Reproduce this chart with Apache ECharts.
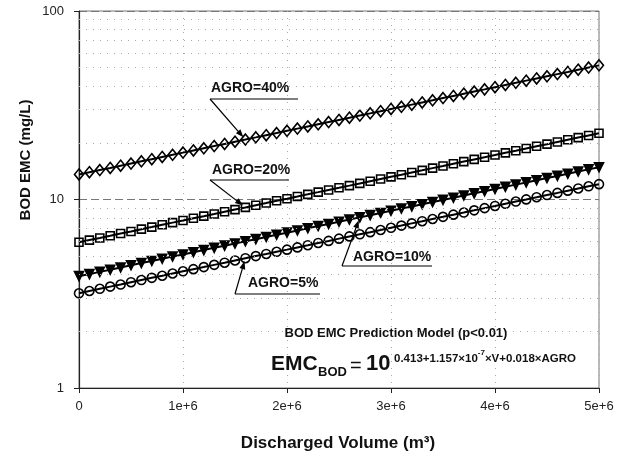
<!DOCTYPE html>
<html>
<head>
<meta charset="utf-8">
<title>BOD EMC</title>
<script src="https://cdn.jsdelivr.net/npm/echarts@6/dist/echarts.min.js"></script>
<style>
html, body { margin: 0; padding: 0; background: #fff; }
#main { width: 626px; height: 456px; }
</style>
</head>
<body>
<div id="main"></div>
<script>
'use strict';

// discharged volume (m3)
var volume = [0, 1e5, 2e5, 3e5, 4e5, 5e5, 6e5, 7e5, 8e5, 9e5,
	10e5, 11e5, 12e5, 13e5, 14e5, 15e5, 16e5, 17e5, 18e5, 19e5,
	20e5, 21e5, 22e5, 23e5, 24e5, 25e5, 26e5, 27e5, 28e5, 29e5,
	30e5, 31e5, 32e5, 33e5, 34e5, 35e5, 36e5, 37e5, 38e5, 39e5,
	40e5, 41e5, 42e5, 43e5, 44e5, 45e5, 46e5, 47e5, 48e5, 49e5, 50e5];

var agro40 = [13.58, 13.95, 14.33, 14.71, 15.11, 15.52, 15.94, 16.37, 16.81, 17.26,
	17.73, 18.21, 18.70, 19.20, 19.72, 20.26, 20.80, 21.36, 21.94, 22.53,
	23.14, 23.77, 24.41, 25.07, 25.74, 26.44, 27.15, 27.89, 28.64, 29.41,
	30.21, 31.02, 31.86, 32.72, 33.60, 34.51, 35.44, 36.40, 37.38, 38.39,
	39.43, 40.50, 41.58, 42.71, 43.86, 45.04, 46.26, 47.51, 48.80, 50.11, 51.47];

var agro20 = [5.93, 6.09, 6.25, 6.42, 6.60, 6.77, 6.96, 7.14, 7.34, 7.54,
	7.74, 7.95, 8.16, 8.38, 8.61, 8.84, 9.08, 9.33, 9.58, 9.84,
	10.10, 10.37, 10.65, 10.94, 11.24, 11.54, 11.85, 12.17, 12.50, 12.84,
	13.19, 13.54, 13.91, 14.28, 14.67, 15.06, 15.47, 15.89, 16.32, 16.76,
	17.21, 17.68, 18.15, 18.64, 19.15, 19.66, 20.19, 20.74, 21.30, 21.87, 22.46];

var agro10 = [3.92, 4.02, 4.13, 4.24, 4.36, 4.48, 4.60, 4.72, 4.85, 4.98,
	5.11, 5.25, 5.39, 5.54, 5.69, 5.84, 6.00, 6.16, 6.33, 6.50,
	6.67, 6.85, 7.04, 7.23, 7.42, 7.62, 7.83, 8.04, 8.26, 8.48,
	8.71, 8.95, 9.19, 9.44, 9.69, 9.95, 10.22, 10.50, 10.78, 11.07,
	11.37, 11.68, 11.99, 12.32, 12.65, 12.99, 13.34, 13.70, 14.07, 14.45, 14.84];

var agro5 = [3.18, 3.27, 3.36, 3.45, 3.54, 3.64, 3.74, 3.84, 3.94, 4.05,
	4.16, 4.27, 4.38, 4.50, 4.62, 4.75, 4.88, 5.01, 5.14, 5.28,
	5.42, 5.57, 5.72, 5.88, 6.03, 6.20, 6.37, 6.54, 6.71, 6.89,
	7.08, 7.27, 7.47, 7.67, 7.88, 8.09, 8.31, 8.53, 8.76, 9.00,
	9.24, 9.49, 9.75, 10.01, 10.28, 10.56, 10.84, 11.14, 11.44, 11.75, 12.06];

var xTicks = ['0', '1e+6', '2e+6', '3e+6', '4e+6', '5e+6'];
var minorY = [2, 3, 4, 5, 6, 7, 8, 9, 20, 30, 40, 50, 60, 70, 80, 90];

var curves = [agro40, agro20, agro10, agro5];

// label boxes: text pos, underline, which curve / point the arrow points to
var notes = [
	{ label: 'AGRO=40%', tx: 211, ty: 88, ux0: 210, ux1: 298, uy: 99, s: 0, at: 16 },
	{ label: 'AGRO=20%', tx: 212, ty: 170, ux0: 210, ux1: 289, uy: 180, s: 1, at: 16 },
	{ label: 'AGRO=10%', tx: 353, ty: 257, ux0: 342, ux1: 432, uy: 266, s: 2, at: 27 },
	{ label: 'AGRO=5%', tx: 248, ty: 283, ux0: 235, ux1: 320, uy: 294, s: 3, at: 16 }
];

var font = '"Liberation Sans", Arial, sans-serif';
var ink = '#111';

function pairs(vals) {
	return volume.map(function (v, i) { return [v, vals[i]]; });
}

function curve(name, vals, symbol, size, fill, rotate) {
	return {
		name: name,
		type: 'line',
		data: pairs(vals),
		symbol: symbol,
		symbolSize: size,
		symbolRotate: rotate || 0,
		showAllSymbol: true,
		lineStyle: { color: '#000', width: 2 },
		itemStyle: { color: fill, borderColor: '#000', borderWidth: 1.6 },
		emphasis: { disabled: true },
		z: 3
	};
}

var chart = echarts.init(document.getElementById('main'));

var option = {
	animation: false,
	backgroundColor: '#fff',
	grid: {
		left: 79, top: 11, width: 520, height: 377,
		show: true, borderColor: '#777', borderWidth: 1
	},
	xAxis: {
		type: 'value',
		min: 0, max: 5e6, interval: 1e6,
		axisLine: { lineStyle: { color: '#222', width: 1.2 } },
		axisTick: { show: true, length: 5, lineStyle: { color: '#222' } },
		axisLabel: {
			fontFamily: font, fontSize: 13, color: '#222', margin: 12,
			formatter: function (v) { return xTicks[Math.round(v / 1e6)]; }
		},
		splitLine: { show: true, lineStyle: { type: [1, 6], color: '#aaa', width: 1 } }
	},
	yAxis: {
		type: 'log',
		logBase: 10,
		min: 1, max: 100,
		axisLine: { show: true, lineStyle: { color: '#222', width: 1.2 } },
		axisTick: { show: true, length: 5, lineStyle: { color: '#222' } },
		axisLabel: { fontFamily: font, fontSize: 13, color: '#222', margin: 15 },
		splitLine: { show: true, lineStyle: { type: [8, 4], color: '#777', width: 1 } }
	},
	series: [
		curve('AGRO=40%', agro40, 'diamond', [9, 11], 'rgba(255,255,255,0)'),
		curve('AGRO=20%', agro20, 'rect', 8, 'rgba(255,255,255,0)'),
		curve('AGRO=10%', agro10, 'triangle', 9, '#000', 180),
		curve('AGRO=5%', agro5, 'circle', 9, 'rgba(255,255,255,0)'),
		{
			// minor log grid
			type: 'line',
			data: [],
			z: 1,
			markLine: {
				silent: true,
				symbol: ['none', 'none'],
				label: { show: false },
				lineStyle: { type: [1, 6], color: '#aaa', width: 1 },
				data: minorY.map(function (v) { return { yAxis: v }; })
			}
		}
	]
};
chart.setOption(option);

var txt = function (x, y, text, f, extra) {
	var st = { text: text, x: 0, y: 0, font: f, fill: ink,
		align: 'left', textAlign: 'left', verticalAlign: 'middle', textVerticalAlign: 'middle' };
	for (var k in extra) st[k] = extra[k];
	return { type: 'text', x: x, y: y, z: 10, silent: true, style: st };
};

var graphics = [];

notes.forEach(function (n) {
	var tip = chart.convertToPixel({ gridIndex: 0 }, [volume[n.at], curves[n.s][n.at]]);
	var dx = tip[0] - n.ux0, dy = tip[1] - n.uy;
	var len = Math.sqrt(dx * dx + dy * dy);
	var ux = dx / len, uy = dy / len;
	var ex = tip[0] - ux * 3, ey = tip[1] - uy * 3;
	var hl = 8, hw = 3;
	graphics.push(txt(n.tx, n.ty, n.label, 'bold 14px ' + font));
	graphics.push({ type: 'line', z: 10, silent: true,
		shape: { x1: n.ux0, y1: n.uy, x2: n.ux1, y2: n.uy },
		style: { stroke: '#000', lineWidth: 1.2 } });
	graphics.push({ type: 'line', z: 10, silent: true,
		shape: { x1: n.ux0, y1: n.uy, x2: ex - ux * 4, y2: ey - uy * 4 },
		style: { stroke: '#000', lineWidth: 1.2 } });
	graphics.push({ type: 'polygon', z: 10, silent: true,
		shape: { points: [
			[ex, ey],
			[ex - ux * hl - uy * hw, ey - uy * hl + ux * hw],
			[ex - ux * hl + uy * hw, ey - uy * hl - ux * hw]
		] },
		style: { fill: '#000' } });
});

// model text
graphics.push(txt(396, 333, 'BOD EMC Prediction Model (p<0.01)', 'bold 13px ' + font,
	{ align: 'center', textAlign: 'center' }));
graphics.push(txt(271, 364, 'EMC', 'bold 21px ' + font));
graphics.push(txt(318, 372, 'BOD', 'bold 13px ' + font));
graphics.push(txt(350, 366, '=', '20px ' + font));
graphics.push(txt(366, 364, '10', 'bold 22px ' + font));
graphics.push(txt(394, 357, '{a|0.413+1.157×10}{b|-7}{a|×V+0.018×AGRO}', 'bold 11px ' + font, {
	rich: {
		a: { font: 'bold 11.5px ' + font, fill: ink, color: ink, lineHeight: 16, verticalAlign: 'bottom' },
		b: { font: 'bold 8px ' + font, fill: ink, color: ink, lineHeight: 16, verticalAlign: 'top' }
	}
}));

// axis titles
graphics.push({ type: 'text', x: 26, y: 160, rotation: Math.PI / 2, z: 10, silent: true,
	style: { text: 'BOD EMC (mg/L)', x: 0, y: 0, font: 'bold 15px ' + font, fill: ink,
		align: 'center', textAlign: 'center', verticalAlign: 'middle', textVerticalAlign: 'middle' } });
graphics.push(txt(338, 443, 'Discharged Volume (m³)', 'bold 17px ' + font,
	{ align: 'center', textAlign: 'center' }));

chart.setOption({ graphic: graphics });
</script>
</body>
</html>
